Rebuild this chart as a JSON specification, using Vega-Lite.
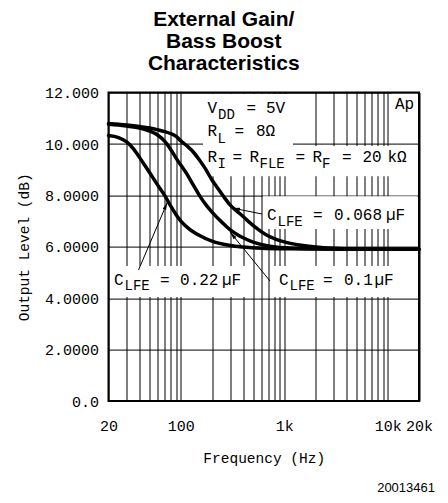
{
  "$schema": "https://vega.github.io/schema/vega-lite/v6.json",
  "width": 310.5,
  "height": 308.4,
  "autosize": "none",
  "padding": {"left": 108.5, "top": 92.6, "right": 29, "bottom": 102},
  "background": "white",
  "title": {
    "text": ["External Gain/", "Bass Boost", "Characteristics"],
    "font": "Liberation Sans",
    "fontSize": 21,
    "fontWeight": "bold",
    "color": "black",
    "anchor": "middle",
    "frame": "group",
    "dx": -40,
    "dy": 26,
    "offset": 17,
    "baseline": "bottom",
    "lineHeight": 22
  },
  "config": {
    "view": {"stroke": "black", "strokeWidth": 2}
  },
  "datasets": {
    "curves": [
      {"c": "0.068", "f": 20, "v": 10.80}, {"c": "0.068", "f": 25, "v": 10.77}, {"c": "0.068", "f": 30, "v": 10.74},
      {"c": "0.068", "f": 40, "v": 10.68}, {"c": "0.068", "f": 50, "v": 10.62}, {"c": "0.068", "f": 60, "v": 10.55},
      {"c": "0.068", "f": 70, "v": 10.48}, {"c": "0.068", "f": 80, "v": 10.40}, {"c": "0.068", "f": 90, "v": 10.30},
      {"c": "0.068", "f": 100, "v": 10.12}, {"c": "0.068", "f": 115, "v": 9.92}, {"c": "0.068", "f": 130, "v": 9.72},
      {"c": "0.068", "f": 150, "v": 9.40}, {"c": "0.068", "f": 170, "v": 9.08}, {"c": "0.068", "f": 200, "v": 8.60},
      {"c": "0.068", "f": 230, "v": 8.25}, {"c": "0.068", "f": 260, "v": 7.95}, {"c": "0.068", "f": 300, "v": 7.62},
      {"c": "0.068", "f": 350, "v": 7.38}, {"c": "0.068", "f": 400, "v": 7.18}, {"c": "0.068", "f": 460, "v": 6.95},
      {"c": "0.068", "f": 550, "v": 6.70}, {"c": "0.068", "f": 660, "v": 6.48}, {"c": "0.068", "f": 800, "v": 6.32},
      {"c": "0.068", "f": 1000, "v": 6.19}, {"c": "0.068", "f": 1400, "v": 6.07}, {"c": "0.068", "f": 2000, "v": 5.99},
      {"c": "0.068", "f": 3000, "v": 5.94}, {"c": "0.068", "f": 5000, "v": 5.91}, {"c": "0.068", "f": 10000, "v": 5.90},
      {"c": "0.068", "f": 20000, "v": 5.90},
      {"c": "0.1", "f": 20, "v": 10.77}, {"c": "0.1", "f": 25, "v": 10.74}, {"c": "0.1", "f": 30, "v": 10.70},
      {"c": "0.1", "f": 40, "v": 10.62}, {"c": "0.1", "f": 50, "v": 10.50}, {"c": "0.1", "f": 60, "v": 10.34},
      {"c": "0.1", "f": 70, "v": 10.10}, {"c": "0.1", "f": 80, "v": 9.78}, {"c": "0.1", "f": 90, "v": 9.45},
      {"c": "0.1", "f": 100, "v": 9.18}, {"c": "0.1", "f": 115, "v": 8.82}, {"c": "0.1", "f": 130, "v": 8.45},
      {"c": "0.1", "f": 150, "v": 8.02}, {"c": "0.1", "f": 175, "v": 7.63}, {"c": "0.1", "f": 200, "v": 7.35},
      {"c": "0.1", "f": 250, "v": 6.95}, {"c": "0.1", "f": 300, "v": 6.66}, {"c": "0.1", "f": 350, "v": 6.48},
      {"c": "0.1", "f": 400, "v": 6.35}, {"c": "0.1", "f": 500, "v": 6.18}, {"c": "0.1", "f": 700, "v": 6.03},
      {"c": "0.1", "f": 1000, "v": 5.96}, {"c": "0.1", "f": 2000, "v": 5.92}, {"c": "0.1", "f": 5000, "v": 5.90},
      {"c": "0.1", "f": 20000, "v": 5.90},
      {"c": "0.22", "f": 20, "v": 10.33}, {"c": "0.22", "f": 25, "v": 10.25}, {"c": "0.22", "f": 30, "v": 10.08},
      {"c": "0.22", "f": 35, "v": 9.80}, {"c": "0.22", "f": 40, "v": 9.47}, {"c": "0.22", "f": 45, "v": 9.16},
      {"c": "0.22", "f": 50, "v": 8.88}, {"c": "0.22", "f": 60, "v": 8.39}, {"c": "0.22", "f": 70, "v": 7.99},
      {"c": "0.22", "f": 80, "v": 7.58}, {"c": "0.22", "f": 90, "v": 7.25}, {"c": "0.22", "f": 100, "v": 7.00},
      {"c": "0.22", "f": 120, "v": 6.70}, {"c": "0.22", "f": 150, "v": 6.45}, {"c": "0.22", "f": 200, "v": 6.22},
      {"c": "0.22", "f": 300, "v": 6.05}, {"c": "0.22", "f": 400, "v": 5.99}, {"c": "0.22", "f": 600, "v": 5.94},
      {"c": "0.22", "f": 1000, "v": 5.92}, {"c": "0.22", "f": 20000, "v": 5.90}
    ],
    "boxes": [
      {"f": 163.7, "f2": 1212, "v": 11.95, "v2": 9.90},
      {"f": 163.7, "f2": 19300, "v": 9.92, "v2": 8.75},
      {"f": 10966, "f2": 19300, "v": 11.95, "v2": 11.10},
      {"f": 622, "f2": 19300, "v": 7.97, "v2": 6.69},
      {"f": 754.8, "f2": 19300, "v": 5.25, "v2": 4.05},
      {"f": 20.68, "f2": 416.8, "v": 5.25, "v2": 4.05}
    ],
    "arrows": [
      {"id": "a068", "f": 608.4, "v": 7.276}, {"id": "a068", "f": 312.2, "v": 7.510},
      {"id": "a22", "f": 39.0, "v": 5.097}, {"id": "a22", "f": 74.3, "v": 7.743},
      {"id": "a1", "f": 726.8, "v": 4.669}, {"id": "a1", "f": 298.6, "v": 6.576}
    ],
    "heads": [
      {"id": "a068", "f": 340.3, "v": 7.479},
      {"id": "a22", "f": 71.7, "v": 7.599},
      {"id": "a1", "f": 315.6, "v": 6.455}
    ],
    "mainText": [
      {"f": 181.0, "v": 11.195, "t": "V"}, {"f": 430.9, "v": 11.195, "t": "="}, {"f": 664.9, "v": 11.195, "t": "5V"},
      {"f": 181.0, "v": 10.311, "t": "R"}, {"f": 330.0, "v": 10.311, "t": "="}, {"f": 532.4, "v": 10.311, "t": "8Ω"},
      {"f": 181.0, "v": 9.311, "t": "R"}, {"f": 315.6, "v": 9.311, "t": "="}, {"f": 460.6, "v": 9.311, "t": "R"},
      {"f": 1282, "v": 9.311, "t": "="}, {"f": 1871, "v": 9.311, "t": "R"}, {"f": 3607, "v": 9.311, "t": "="},
      {"f": 5690, "v": 9.311, "t": "20"}, {"f": 9926, "v": 9.311, "t": "kΩ"},
      {"f": 11728, "v": 11.381, "t": "Ap"},
      {"f": 679.8, "v": 7.043, "t": "C"}, {"f": 1891.6, "v": 7.043, "t": "="}, {"f": 3018.8, "v": 7.043, "t": "0.068"}, {"f": 9600, "v": 7.043, "t": "µF"},
      {"f": 22.6, "v": 4.533, "t": "C"}, {"f": 62.9, "v": 4.533, "t": "="}, {"f": 98.2, "v": 4.533, "t": "0.22"}, {"f": 249.9, "v": 4.533, "t": "µF"},
      {"f": 887.8, "v": 4.533, "t": "C"}, {"f": 2363.6, "v": 4.533, "t": "="}, {"f": 3771.6, "v": 4.533, "t": "0.1"}, {"f": 7430, "v": 4.533, "t": "µF"}
    ],
    "subText": [
      {"f": 228.6, "v": 10.973, "t": "DD"},
      {"f": 226.0, "v": 10.039, "t": "L"},
      {"f": 226.0, "v": 9.066, "t": "I"},
      {"f": 575.4, "v": 9.066, "t": "FLE"},
      {"f": 2312, "v": 9.066, "t": "F"},
      {"f": 858.8, "v": 6.790, "t": "LFE"},
      {"f": 28.55, "v": 4.300, "t": "LFE"},
      {"f": 1121.8, "v": 4.300, "t": "LFE"}
    ],
    "footer": [
      {"f": 20000, "v": 0, "t": "20013461"}
    ]
  },
  "encoding": {
    "x": {
      "field": "f",
      "type": "quantitative",
      "scale": {"type": "log", "domain": [20, 20000], "nice": false},
      "axis": {
        "values": [20, 30, 40, 50, 60, 70, 80, 90, 100, 200, 300, 400, 500, 600, 700, 800, 900, 1000, 2000, 3000, 4000, 5000, 6000, 7000, 8000, 9000, 10000, 20000],
        "labelExpr": "datum.value == 20 ? '20' : datum.value == 100 ? '100' : datum.value == 1000 ? '1k' : datum.value == 10000 ? '10k' : datum.value == 20000 ? '20k' : ''",
        "ticks": false,
        "domain": false,
        "grid": true,
        "gridColor": "black",
        "gridOpacity": 1,
        "gridWidth": 1,
        "labelFont": "Liberation Mono",
        "labelFontSize": 15,
        "labelColor": "black",
        "labelPadding": 17,
        "labelOverlap": false,
        "labelFlush": false,
        "title": "Frequency (Hz)",
        "titleFont": "Liberation Mono",
        "titleFontSize": 14.5,
        "titleFontWeight": "normal",
        "titleColor": "black",
        "titlePadding": 18
      }
    },
    "y": {
      "field": "v",
      "type": "quantitative",
      "scale": {"domain": [0, 12], "nice": false},
      "axis": {
        "values": [0, 2, 4, 6, 8, 10, 12],
        "labelExpr": "datum.value == 0 ? '0.0' : datum.value < 10 ? format(datum.value, '.4f') : format(datum.value, '.3f')",
        "ticks": false,
        "domain": false,
        "grid": true,
        "gridColor": "black",
        "gridOpacity": 1,
        "gridWidth": 1,
        "labelFont": "Liberation Mono",
        "labelFontSize": 15,
        "labelColor": "black",
        "labelPadding": 10,
        "title": "Output Level (dB)",
        "titleFont": "Liberation Mono",
        "titleFontSize": 14.5,
        "titleFontWeight": "normal",
        "titleColor": "black",
        "titlePadding": 13
      }
    }
  },
  "layer": [
    {
      "data": {"name": "boxes"},
      "mark": {"type": "rect", "fill": "white", "strokeWidth": 0},
      "encoding": {
        "x2": {"field": "f2"},
        "y2": {"field": "v2"}
      }
    },
    {
      "data": {"name": "curves"},
      "mark": {"type": "line", "color": "black", "strokeWidth": 3.5, "interpolate": "monotone", "strokeCap": "round"},
      "encoding": {
        "detail": {"field": "c", "type": "nominal"}
      }
    },
    {
      "data": {"name": "arrows"},
      "mark": {"type": "line", "color": "black", "strokeWidth": 1},
      "encoding": {
        "detail": {"field": "id", "type": "nominal"}
      }
    },
    {
      "data": {"name": "heads"},
      "transform": [{"filter": "datum.id == 'a068'"}],
      "mark": {"type": "point", "shape": "M0,-1L0.45,1L-0.45,1Z", "filled": true, "color": "black", "opacity": 1, "size": 64, "angle": 281}
    },
    {
      "data": {"name": "heads"},
      "transform": [{"filter": "datum.id == 'a22'"}],
      "mark": {"type": "point", "shape": "M0,-1L0.45,1L-0.45,1Z", "filled": true, "color": "black", "opacity": 1, "size": 64, "angle": 23}
    },
    {
      "data": {"name": "heads"},
      "transform": [{"filter": "datum.id == 'a1'"}],
      "mark": {"type": "point", "shape": "M0,-1L0.45,1L-0.45,1Z", "filled": true, "color": "black", "opacity": 1, "size": 64, "angle": 321}
    },
    {
      "data": {"name": "mainText"},
      "mark": {"type": "text", "align": "left", "baseline": "alphabetic", "font": "Liberation Mono", "fontSize": 16, "color": "black"},
      "encoding": {"text": {"field": "t"}}
    },
    {
      "data": {"name": "subText"},
      "mark": {"type": "text", "align": "left", "baseline": "alphabetic", "font": "Liberation Mono", "fontSize": 14, "color": "black"},
      "encoding": {"text": {"field": "t"}}
    },
    {
      "data": {"name": "footer"},
      "mark": {"type": "text", "align": "right", "baseline": "alphabetic", "font": "Liberation Sans", "fontSize": 13, "color": "black", "dx": 16, "dy": 90.7},
      "encoding": {"text": {"field": "t"}}
    }
  ]
}
